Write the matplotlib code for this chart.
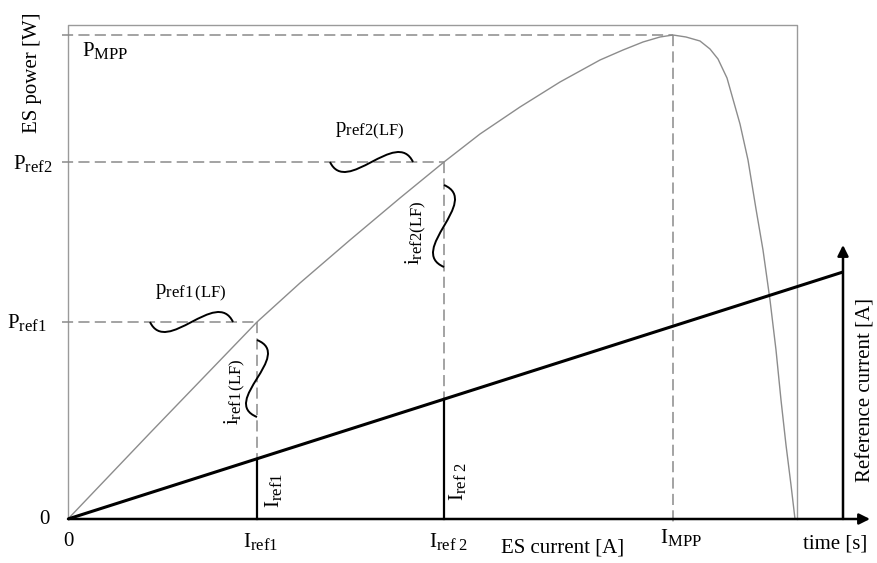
import numpy as np
import matplotlib
matplotlib.use("Agg")
import matplotlib.pyplot as plt
from matplotlib.path import Path
from matplotlib.patches import PathPatch
import matplotlib._mathtext as _mt

_mt.SHRINK_FACTOR = 0.8  # larger subscripts, as in the reference

plt.rcParams['font.family'] = ['Liberation Serif', 'DejaVu Serif']
plt.rcParams['mathtext.fontset'] = 'custom'
plt.rcParams['mathtext.rm'] = 'Liberation Serif'
plt.rcParams['mathtext.it'] = 'Liberation Serif:italic'
plt.rcParams['mathtext.bf'] = 'Liberation Serif:bold'
plt.rcParams['lines.scale_dashes'] = False

# ---------------- data (arbitrary units) ----------------
# ES power curve P(I)
es_current = [0.00, 0.82, 1.89, 2.32, 2.82, 3.32, 3.76, 4.12, 4.52, 4.92, 5.32,
              5.55, 5.75, 5.92, 6.05, 6.18, 6.32, 6.42, 6.50, 6.59, 6.72, 6.80,
              6.88, 6.95, 7.02, 7.08, 7.13, 7.18, 7.23, 7.27]
es_power = [0.00, 0.86, 1.97, 2.36, 2.79, 3.21, 3.57, 3.85, 4.12, 4.37, 4.59,
            4.69, 4.77, 4.82, 4.84, 4.82, 4.78, 4.70, 4.60, 4.41, 3.95, 3.59,
            3.10, 2.69, 2.19, 1.69, 1.19, 0.74, 0.34, 0.00]

# reference current ramp vs time
ref_time = [0.00, 7.75]
ref_current = [0.00, 2.47]

# operating points
I_ref = [1.89, 3.76]
P_ref = [1.97, 3.57]
I_MPP = 6.05
P_MPP = 4.84

box_right = 7.29
box_top = 4.94
arrow_x_end = 8.02
arrow_y_end = 2.74

# ---------------- figure ----------------
fig = plt.figure(figsize=(8.78, 5.63), dpi=100)
ax = fig.add_axes([0, 0, 1, 1])
ax.set_xlim(-0.68, 8.10)
ax.set_ylim(-0.44, 5.19)
ax.axis('off')

FS = 15
gray_box = '#9a9a9a'
gray_dash = '#8a8a8a'
dash = (8, 3.8)

# gray frame
ax.plot([0, 0, box_right, box_right], [0, box_top, box_top, 0],
        color=gray_box, lw=1.0, zorder=1)

# power curve
ax.plot(es_current, es_power, color='#8c8c8c', lw=1.0, zorder=2)

# dashed guide lines
ax.plot([-0.06, I_MPP], [P_MPP, P_MPP], color=gray_dash, lw=1.1, dashes=dash)
ax.plot([I_MPP, I_MPP], [P_MPP, -0.06], color=gray_dash, lw=1.1, dashes=dash)
for i_r, p_r in zip(I_ref, P_ref):
    i_line = np.interp(i_r, ref_time, ref_current)
    ax.plot([-0.06, i_r], [p_r, p_r], color=gray_dash, lw=1.1, dashes=dash)
    ax.plot([i_r, i_r], [p_r, i_line], color=gray_dash, lw=1.1, dashes=dash)
    ax.plot([i_r, i_r], [0, i_line], color='black', lw=1.6, zorder=4)

# reference current ramp
ax.plot(ref_time, ref_current, color='black', lw=2.2, zorder=5,
        solid_capstyle='butt')

# axes arrows
ax.annotate('', xy=(arrow_x_end, 0), xytext=(0, 0),
            arrowprops=dict(arrowstyle='-|>', lw=1.8, color='black',
                            mutation_scale=16, shrinkA=0, shrinkB=0), zorder=6)
ax.annotate('', xy=(ref_time[-1], arrow_y_end), xytext=(ref_time[-1], 0),
            arrowprops=dict(arrowstyle='-|>', lw=1.8, color='black',
                            mutation_scale=16, shrinkA=0, shrinkB=0), zorder=6)


# wavy braces
def brace(start, end, amp, sign=1):
    sx, sy = start
    ex, ey = end
    dx, dy = ex - sx, ey - sy
    nx, ny = dy, -dx
    L = np.hypot(dx, dy)
    nx, ny = sign * nx / L, sign * ny / L
    h = amp / 0.289
    pts_local = [(0, 0), (0.2, h), (0.8, -h), (1, 0)]
    verts = [(sx + dx * u + nx * v, sy + dy * u + ny * v) for u, v in pts_local]
    path = Path(verts, [Path.MOVETO, Path.CURVE4, Path.CURVE4, Path.CURVE4])
    ax.add_patch(PathPatch(path, fill=False, lw=1.4, color='black', zorder=5))


brace((0.82, P_ref[0]), (1.65, P_ref[0]), 0.10, 1)
brace((I_ref[0], 1.79), (I_ref[0], 1.02), 0.11, -1)
brace((2.62, P_ref[1]), (3.45, P_ref[1]), 0.10, 1)
brace((I_ref[1], 3.34), (I_ref[1], 2.52), 0.11, -1)

# ---------------- texts ----------------
ax.text(-0.36, 4.46, 'ES power [W]', rotation=90, ha='center', va='center',
        fontsize=FS)
ax.text(0.14, 4.63, r'$\mathrm{P_{MPP}}$', ha='left', va='baseline', fontsize=FS)
ax.text(-0.15, 3.50, r'$\mathrm{P_{ref2}}$', ha='right', va='baseline', fontsize=FS)
ax.text(-0.21, 1.91, r'$\mathrm{P_{ref1}}$', ha='right', va='baseline', fontsize=FS)
ax.text(-0.24, 0.0, '0', ha='center', va='center', fontsize=FS)
ax.text(0.0, -0.23, '0', ha='center', va='center', fontsize=FS)

ax.text(1.93, -0.28, r'$\mathrm{I_{ref1}}$', ha='center', va='baseline', fontsize=FS)
ax.text(3.81, -0.28, r'$\mathrm{I_{ref\ 2}}$', ha='center', va='baseline', fontsize=FS)
ax.text(4.95, -0.34, 'ES current [A]', ha='center', va='baseline', fontsize=FS)
ax.text(6.13, -0.24, r'$\mathrm{I_{MPP}}$', ha='center', va='baseline', fontsize=FS)
ax.text(7.67, -0.29, 'time [s]', ha='center', va='baseline', fontsize=FS)
ax.text(7.98, 1.29, 'Reference current [A]', rotation=90, ha='center',
        va='center', fontsize=FS)

ax.text(2.06, 0.29, r'$\mathrm{I_{ref1}}$', rotation=90, ha='center', va='center',
        fontsize=FS)
ax.text(3.89, 0.38, r'$\mathrm{I_{ref\ 2}}$', rotation=90, ha='center', va='center',
        fontsize=FS)

ax.text(1.23, 2.25, r'$\mathrm{p_{ref1\,(LF)}}$', ha='center', va='baseline',
        fontsize=FS)
ax.text(3.02, 3.87, r'$\mathrm{p_{ref2(LF)}}$', ha='center', va='baseline',
        fontsize=FS)
ax.text(1.67, 1.27, r'$\mathrm{i_{ref1\,(LF)}}$', rotation=90, ha='center',
        va='center', fontsize=FS)
ax.text(3.48, 2.86, r'$\mathrm{i_{ref2(LF)}}$', rotation=90, ha='center',
        va='center', fontsize=FS)

fig.savefig('out.png', dpi=100)
